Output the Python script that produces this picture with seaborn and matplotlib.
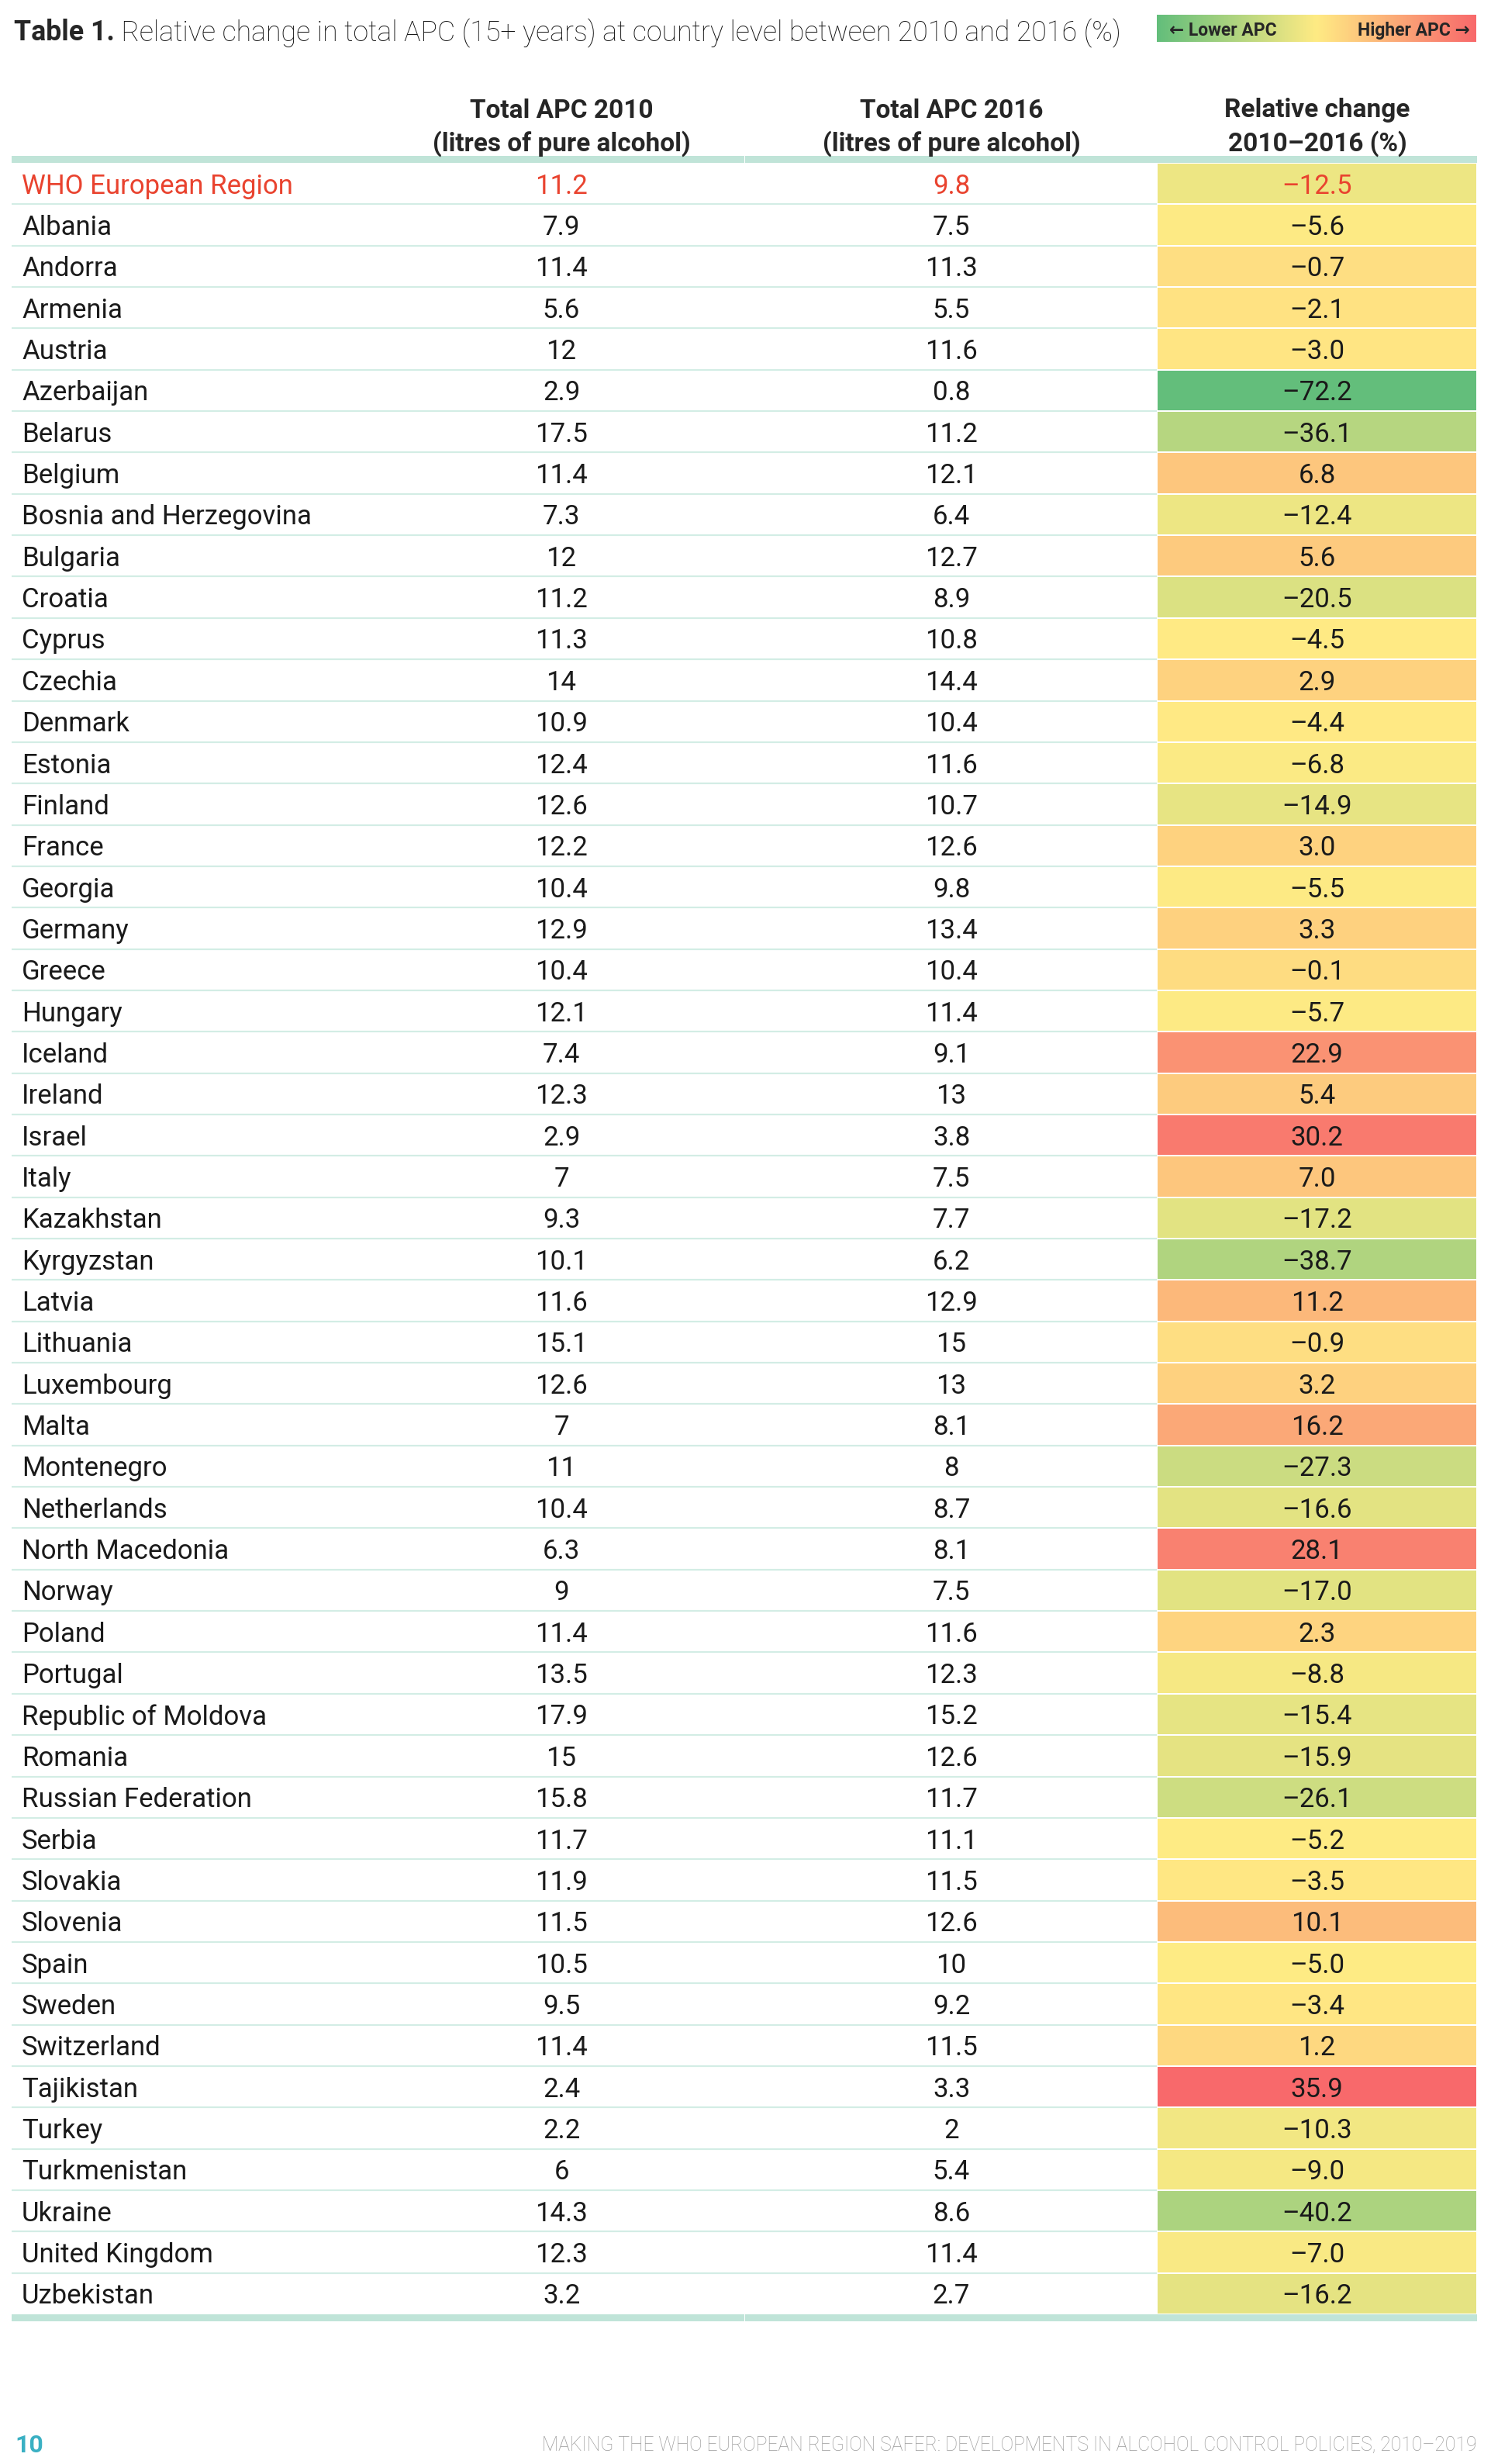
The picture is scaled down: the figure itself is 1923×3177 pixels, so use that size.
import numpy as np
import pandas as pd
import seaborn as sns
import matplotlib.pyplot as plt
from matplotlib.colors import LinearSegmentedColormap, TwoSlopeNorm
from matplotlib.patches import Rectangle

sns.set_style("white")
plt.rcParams['font.family'] = ['Roboto', 'DejaVu Sans']

countries = ["WHO European Region", "Albania", "Andorra", "Armenia", "Austria", "Azerbaijan",
             "Belarus", "Belgium", "Bosnia and Herzegovina", "Bulgaria", "Croatia", "Cyprus",
             "Czechia", "Denmark", "Estonia", "Finland", "France", "Georgia", "Germany", "Greece",
             "Hungary", "Iceland", "Ireland", "Israel", "Italy", "Kazakhstan", "Kyrgyzstan",
             "Latvia", "Lithuania", "Luxembourg", "Malta", "Montenegro", "Netherlands",
             "North Macedonia", "Norway", "Poland", "Portugal", "Republic of Moldova", "Romania",
             "Russian Federation", "Serbia", "Slovakia", "Slovenia", "Spain", "Sweden",
             "Switzerland", "Tajikistan", "Turkey", "Turkmenistan", "Ukraine", "United Kingdom",
             "Uzbekistan"]
apc_2010 = [11.2, 7.9, 11.4, 5.6, 12, 2.9, 17.5, 11.4, 7.3, 12, 11.2, 11.3, 14, 10.9, 12.4, 12.6,
            12.2, 10.4, 12.9, 10.4, 12.1, 7.4, 12.3, 2.9, 7, 9.3, 10.1, 11.6, 15.1, 12.6, 7, 11,
            10.4, 6.3, 9, 11.4, 13.5, 17.9, 15, 15.8, 11.7, 11.9, 11.5, 10.5, 9.5, 11.4, 2.4, 2.2,
            6, 14.3, 12.3, 3.2]
apc_2016 = [9.8, 7.5, 11.3, 5.5, 11.6, 0.8, 11.2, 12.1, 6.4, 12.7, 8.9, 10.8, 14.4, 10.4, 11.6,
            10.7, 12.6, 9.8, 13.4, 10.4, 11.4, 9.1, 13, 3.8, 7.5, 7.7, 6.2, 12.9, 15, 13, 8.1, 8,
            8.7, 8.1, 7.5, 11.6, 12.3, 15.2, 12.6, 11.7, 11.1, 11.5, 12.6, 10, 9.2, 11.5, 3.3, 2,
            5.4, 8.6, 11.4, 2.7]
rel_change = [-12.5, -5.6, -0.7, -2.1, -3.0, -72.2, -36.1, 6.8, -12.4, 5.6, -20.5, -4.5, 2.9,
              -4.4, -6.8, -14.9, 3.0, -5.5, 3.3, -0.1, -5.7, 22.9, 5.4, 30.2, 7.0, -17.2, -38.7,
              11.2, -0.9, 3.2, 16.2, -27.3, -16.6, 28.1, -17.0, 2.3, -8.8, -15.4, -15.9, -26.1,
              -5.2, -3.5, 10.1, -5.0, -3.4, 1.2, 35.9, -10.3, -9.0, -40.2, -7.0, -16.2]

df = pd.DataFrame({"country": countries, "y2010": apc_2010, "y2016": apc_2016,
                   "change": rel_change})
n = len(df)

W, H = 1923, 3177
X0, X1, XC = 15, 1905, 1492
Y0, Y1 = 210, 2984
RED = "#e9432f"
INK = "#1a1a1a"
BAR = "#c0e4d8"
SEP = "#d3ede5"

cmap = LinearSegmentedColormap.from_list("apc", ["#63be7b", "#ffeb84", "#f8696b"])
norm = TwoSlopeNorm(vmin=df["change"].min(), vcenter=df["change"].median(),
                    vmax=df["change"].max())

fig = plt.figure(figsize=(W / 100, H / 100), dpi=100)
page = fig.add_axes([0, 0, 1, 1])
page.axis("off")

# title
r = fig.canvas.get_renderer()
t1 = page.text(18, 38, "Table 1.", fontsize=23, fontweight="bold", va="center_baseline")
t2 = page.text(0, 38, " Relative change in total APC (15+ years) at country level between 2010 and 2016 (%)",
               fontsize=23, fontweight="light", va="center_baseline", color="#111111")
page.set_xlim(0, W)
page.set_ylim(H, 0)
for _ in range(2):
    w1 = t1.get_window_extent(r).width
    t2.set_x(18 + w1)
    tot = w1 + t2.get_window_extent(r).width
    s = t1.get_fontsize() * 1430 / tot
    t1.set_fontsize(s)
    t2.set_fontsize(s)
t2.set_x(18 + t1.get_window_extent(r).width)

# legend gradient
grad = np.linspace(0, 1, 512)[None, :]
page.imshow(grad, cmap=cmap, aspect="auto", extent=(XC, X1 - 1, 54, 19))
page.text(1508, 37, "\u2190 Lower APC", fontsize=16.5, fontweight="bold", va="center_baseline")
page.text(1896, 37, "Higher APC \u2192", fontsize=16.5, fontweight="bold", va="center_baseline",
          ha="right")

# column headers
col_x = [724, 1227, 1699]
headers = [("Total APC 2010", "(litres of pure alcohol)"),
           ("Total APC 2016", "(litres of pure alcohol)"),
           ("Relative change", "2010\u20132016 (%)")]
for x, (l1, l2) in zip(col_x, headers):
    page.text(x, 139, l1, fontsize=24, fontweight="bold", ha="center", va="center_baseline")
    page.text(x, 181, l2, fontsize=24, fontweight="bold", ha="center", va="center_baseline")

# header and bottom bars
for yb in (201, Y1):
    page.add_patch(Rectangle((X0, yb), 960 - X0, 9, color=BAR, lw=0))
    page.add_patch(Rectangle((961, yb), X1 - 961, 9, color=BAR, lw=0))

# footer
page.text(19, 3150, "10", fontsize=23, fontweight="bold", color="#3ab0c3", va="center_baseline")
ft = page.text(1905, 3150, "MAKING THE WHO EUROPEAN REGION SAFER: DEVELOPMENTS IN ALCOHOL CONTROL POLICIES, 2010\u20132019",
               fontsize=20, fontweight="light", color="#9b9b9b", ha="right", va="center_baseline")
ft.set_fontsize(20 * 1206 / ft.get_window_extent(r).width)
page.set_xlim(0, W)
page.set_ylim(H, 0)

# table body
tab = fig.add_axes([X0 / W, 1 - Y1 / H, (X1 - X0) / W, (Y1 - Y0) / H])
tab.set_xlim(X0, X1)
tab.set_ylim(n, 0)
tab.axis("off")
tab.hlines(np.arange(1, n), X0, XC, color=SEP, lw=1.6)

for i, row in df.iterrows():
    kw = dict(fontsize=25, va="center_baseline", color=RED if i == 0 else INK)
    tab.text(28, i + 0.5, row["country"], **kw)
    tab.text(col_x[0], i + 0.5, f"{row['y2010']:g}", ha="center", **kw)
    tab.text(col_x[1], i + 0.5, f"{row['y2016']:g}", ha="center", **kw)

labels = np.array([[f"{v:.1f}".replace("-", "\u2013")] for v in df["change"]])
heat = fig.add_axes([XC / W, 1 - Y1 / H, (X1 - XC) / W, (Y1 - Y0) / H])
sns.heatmap(df[["change"]], ax=heat, cmap=cmap, norm=norm, annot=labels, fmt="",
            cbar=False, linewidths=1.3, linecolor="white", xticklabels=False,
            yticklabels=False,
            annot_kws=dict(fontsize=25, color=INK, va="center_baseline"))
heat.set_xlabel("")
heat.set_ylabel("")
heat.texts[0].set_color(RED)

fig.savefig("out.png", dpi=100)
